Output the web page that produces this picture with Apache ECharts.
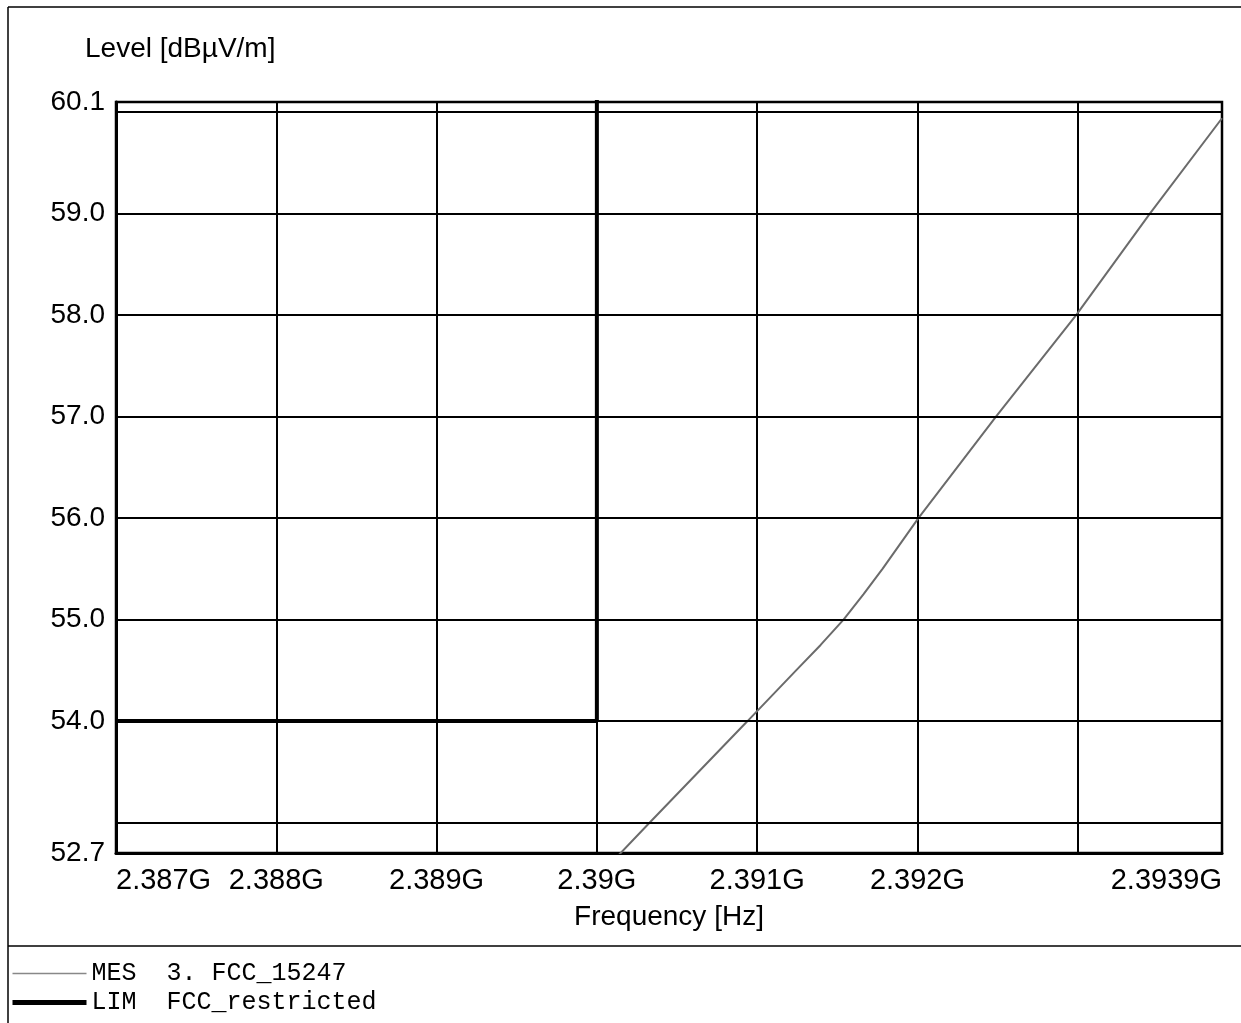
<!DOCTYPE html>
<html>
<head>
<meta charset="utf-8">
<script src="https://cdn.jsdelivr.net/npm/echarts@6/dist/echarts.min.js"></script>
<style>
html,body{margin:0;padding:0;background:#fff;}
#chart{width:1241px;height:1023px;}
</style>
</head>
<body>
<div id="chart"></div>
<script>
// ---- data ----
const MES_FREQ  = [2.3901e9, 2.39033e9, 2.39094e9, 2.391243e9, 2.391396e9, 2.391539e9, 2.391664e9, 2.391782e9, 2.392006e9, 2.39249e9, 2.39299e9, 2.39345e9, 2.3939e9];
const MES_LEVEL = [52.62,    53.0,      54.0,      54.5,       54.75,      55.0,       55.25,      55.5,       56.0,       57.0,      58.0,      59.0,      59.94];
const LIM_FREQ  = [2.387e9, 2.39e9, 2.39e9];
const LIM_LEVEL = [54.0,    54.0,   74.0];
const Y_GRID = [53, 54, 55, 56, 57, 58, 59, 60];
const Y_LABELS = [52.7, 54, 55, 56, 57, 58, 59, 60.1];
const X_MIN = 2.387e9, X_MAX = 2.3939e9, X_STEP = 1e6;
const Y_MIN = 52.7, Y_MAX = 60.1;
const X_HIDDEN = [2.393e9];
const SERIES_NAMES = ['MES', 'LIM'];
const LEGEND_TEXT = {MES: '3. FCC_15247', LIM: 'FCC_restricted'};

const FONT = "'Liberation Sans', Arial, sans-serif";
const MONO = "'Liberation Mono', 'DejaVu Sans Mono', monospace";

const chart = echarts.init(document.getElementById('chart'), null, {renderer: 'canvas'});

function fmtX(v) {
  for (const h of X_HIDDEN) if (Math.abs(v - h) < 1) return '';
  return parseFloat((v / 1e9).toFixed(4)) + 'G';
}
function fmtY(v) {
  for (const l of Y_LABELS) if (Math.abs(v - l) < 1e-6) return l.toFixed(1);
  return '';
}

const option = {
  animation: false,
  backgroundColor: '#fff',
  title: {
    text: 'Level [dBµV/m]',
    left: 85, top: 35, padding: 0,
    textStyle: {fontFamily: FONT, fontSize: 28, fontWeight: 'normal', color: '#000'}
  },
  legend: {
    orient: 'vertical',
    left: 10, top: 959, padding: 0,
    itemWidth: 74, itemHeight: 14, itemGap: 0,
    selectedMode: false,
    data: [
      {name: SERIES_NAMES[0], lineStyle: {width: 1.5, color: '#888'}},
      {name: SERIES_NAMES[1], lineStyle: {width: 5, color: '#000'}}
    ],
    itemStyle: {color: 'rgba(0,0,0,0)', borderWidth: 0, opacity: 0},
    formatter: n => n + '  ' + LEGEND_TEXT[n],
    textStyle: {fontFamily: MONO, fontSize: 25, color: '#000', lineHeight: 29}
  },
  grid: {
    left: 116, right: 19, top: 102, bottom: 170,
    show: true, borderColor: '#000', borderWidth: 2.5
  },
  xAxis: {
    type: 'value',
    min: X_MIN, max: X_MAX, interval: X_STEP,
    name: 'Frequency [Hz]', nameLocation: 'middle', nameGap: 50,
    nameTextStyle: {fontFamily: FONT, fontSize: 28, color: '#000'},
    axisLine: {show: true, onZero: false, lineStyle: {color: '#000', width: 3}},
    axisTick: {show: false},
    axisLabel: {
      formatter: fmtX, margin: 13, showMinLabel: true, showMaxLabel: true,
      alignMaxLabel: 'right', alignMinLabel: 'left',
      fontFamily: FONT, fontSize: 29, color: '#000'
    },
    splitLine: {show: true, lineStyle: {color: '#000', width: 2}}
  },
  yAxis: {
    type: 'value',
    min: Y_MIN, max: Y_MAX, interval: 0.1,
    axisLine: {show: true, onZero: false, lineStyle: {color: '#000', width: 3}},
    axisTick: {show: false},
    axisLabel: {formatter: fmtY, margin: 11, fontFamily: FONT, fontSize: 28, color: '#000'},
    splitLine: {show: false}
  },
  series: [
    {
      name: 'MES', type: 'line', symbol: 'none', clip: true, z: 3,
      data: MES_FREQ.map((f, i) => [f, MES_LEVEL[i]]),
      lineStyle: {color: '#6b6b6b', width: 2},
      itemStyle: {color: '#8a8a8a'},
      markLine: {
        silent: true, symbol: 'none', animation: false,
        label: {show: false},
        lineStyle: {color: '#000', width: 2, type: 'solid'},
        data: Y_GRID.map(v => ({yAxis: v}))
      }
    },
    {
      name: 'LIM', type: 'line', symbol: 'none', clip: true, z: 4,
      data: LIM_FREQ.map((f, i) => [f, LIM_LEVEL[i]]),
      lineStyle: {color: '#000', width: 4},
      itemStyle: {color: '#000'}
    }
  ],
  graphic: [
    {type: 'line', shape: {x1: 8, y1: 7, x2: 1241, y2: 7}, style: {stroke: '#000', lineWidth: 1.5}, silent: true},
    {type: 'line', shape: {x1: 8, y1: 7, x2: 8, y2: 1023}, style: {stroke: '#000', lineWidth: 1.5}, silent: true},
    {type: 'line', shape: {x1: 8, y1: 946, x2: 1241, y2: 946}, style: {stroke: '#000', lineWidth: 1.5}, silent: true}
  ]
};
chart.setOption(option);
</script>
</body>
</html>
